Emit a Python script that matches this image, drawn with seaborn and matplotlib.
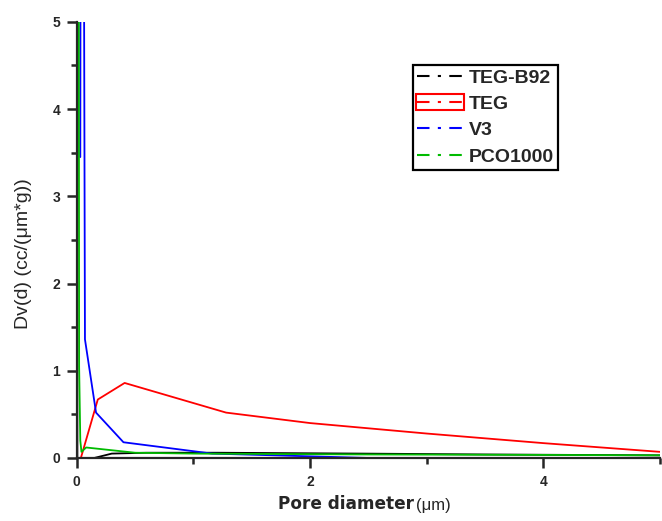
import matplotlib
matplotlib.use("Agg")
import matplotlib.pyplot as plt
import seaborn as sns
import pandas as pd
from matplotlib.lines import Line2D
from matplotlib.patches import Rectangle

sns.set_style("ticks")
plt.rcParams['font.family'] = ['Liberation Sans', 'DejaVu Sans']

# Data
teg_b92_x = [0.0, 0.0, 0.005, 0.15, 0.30, 0.6, 1.2, 2.45, 3.5, 5.0]
teg_b92_y = [0.0, 9.0, 0.0, 0.0, 0.05, 0.06, 0.06, 0.05, 0.04, 0.03]
teg_x = [0.035, 0.18, 0.41, 1.28, 2.0, 3.0, 4.0, 5.0]
teg_y = [0.0, 0.67, 0.86, 0.52, 0.40, 0.28, 0.17, 0.07]
v3_x = [0.03, 0.035, 0.055, 0.07, 0.165, 0.40, 1.16, 2.5, 5.0]
v3_y = [3.45, 9.0, 9.0, 1.36, 0.52, 0.18, 0.05, 0.0, 0.0]
pco_x = [0.015, 0.02, 0.03, 0.04, 0.08, 0.5, 1.0, 2.5, 4.0, 5.0]
pco_y = [9.0, 1.05, 0.20, 0.07, 0.12, 0.06, 0.05, 0.04, 0.035, 0.03]

names = ["TEG-B92", "TEG", "V3", "PCO1000"]
colors = ["#000000", "#ff0000", "#0000ff", "#00bb00"]
series = [(teg_b92_x, teg_b92_y), (teg_x, teg_y), (v3_x, v3_y), (pco_x, pco_y)]

fig = plt.figure(figsize=(6.62, 5.21), dpi=100)
ax = fig.add_axes([0.116, 0.121, 0.881, 0.837])

for name, col, (xs, ys) in zip(names, colors, series):
    df = pd.DataFrame({"x": xs, "y": ys})
    sns.lineplot(data=df, x="x", y="y", ax=ax, color=col, lw=1.3,
                 sort=False, estimator=None, legend=False)

ax.set_xlim(0, 5)
ax.set_ylim(0, 5)
ax.set_xticks([0, 2, 4])
ax.set_xticks([1, 3, 5], minor=True)
ax.set_yticks([0, 1, 2, 3, 4, 5])
ax.set_yticks([0.5, 1.5, 2.5, 3.5, 4.5], minor=True)
ax.tick_params(axis='both', which='major', length=7, width=1.8, labelsize=10,
               direction='out', pad=5)
ax.tick_params(axis='both', which='minor', length=4, width=1.8, direction='out')
for lab in ax.get_xticklabels() + ax.get_yticklabels():
    lab.set_fontweight('bold')
for s in ['top', 'right']:
    ax.spines[s].set_visible(False)
for s in ['left', 'bottom']:
    ax.spines[s].set_linewidth(1.6)

ax.set_xlabel("")
ax.set_ylabel("Dv(d) (cc/(\u03bcm*g))", fontsize=14, fontweight='normal')
ax.yaxis.set_label_coords(-0.077, 0.468)
fig.text(0.522, 0.015, "Pore diameter", fontsize=12.2, fontweight='bold',
         family=['DejaVu Sans'], ha='center', va='bottom')
fig.text(0.628, 0.016, "(\u03bcm)", fontsize=12, fontweight='normal', ha='left', va='bottom')

handles = [Line2D([0], [0], color=c, lw=1.5, linestyle=(0, (6, 4, 1.5, 4))) for c in colors]
leg = ax.legend(handles, names, loc='upper left', bbox_to_anchor=(0.576, 0.901),
                frameon=True, fancybox=False, edgecolor='black', framealpha=1,
                prop={'weight': 'bold', 'size': 14}, handlelength=2.4,
                handletextpad=0.3, borderpad=0.2, labelspacing=0.45,
                borderaxespad=0)
leg.get_frame().set_linewidth(1.6)

fig.canvas.draw()
bb = leg.legend_handles[1].get_window_extent()
rect = Rectangle((bb.x0 - 1, bb.y0 - 8), bb.width + 2, bb.height + 16,
                 transform=None, fill=False, edgecolor='red', lw=1.5)
fig.patches.append(rect)

fig.savefig("out.png", dpi=100)
